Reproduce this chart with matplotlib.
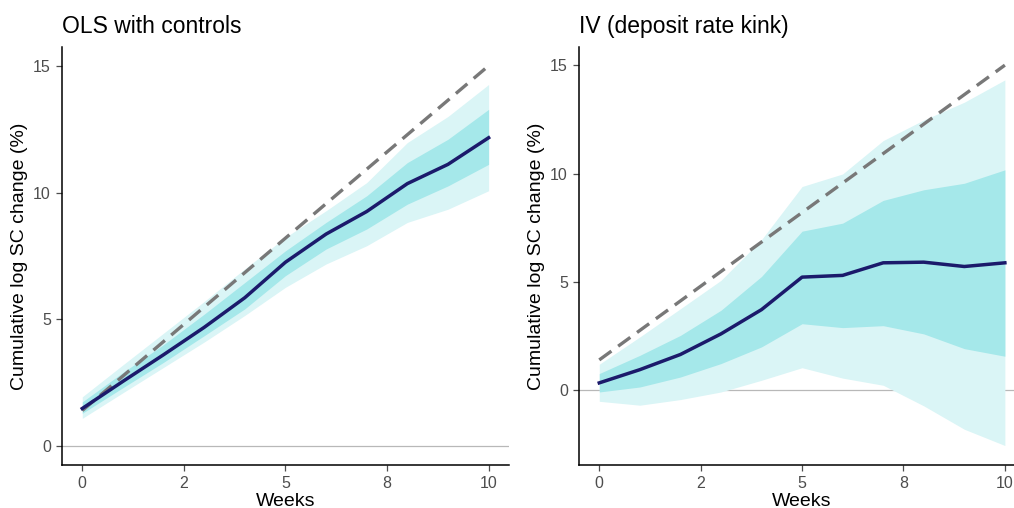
import matplotlib
matplotlib.use('Agg')
import matplotlib.pyplot as plt

plt.rcParams['font.family'] = ['Liberation Sans', 'DejaVu Sans']

weeks = [0, 1, 2, 3, 4, 5, 6, 7, 8, 9, 10]

# OLS with controls
ols_est = [1.48, 2.55, 3.6, 4.68, 5.85, 7.25, 8.36, 9.25, 10.35, 11.11, 12.16]
ols_lo95 = [1.09, 2.1, 3.1, 4.1, 5.15, 6.26, 7.18, 7.9, 8.82, 9.34, 10.07]
ols_hi95 = [1.94, 3.2, 4.45, 5.7, 6.99, 8.23, 9.28, 10.39, 11.97, 13.0, 14.26]
ols_lo68 = [1.29, 2.3, 3.3, 4.35, 5.41, 6.72, 7.77, 8.56, 9.54, 10.26, 11.11]
ols_hi68 = [1.74, 2.9, 4.0, 5.2, 6.45, 7.7, 8.82, 9.87, 11.18, 12.1, 13.28]

# IV (deposit rate kink)
iv_est = [0.34, 0.95, 1.65, 2.6, 3.72, 5.22, 5.3, 5.88, 5.91, 5.71, 5.88]
iv_lo95 = [-0.51, -0.69, -0.43, -0.08, 0.46, 1.04, 0.56, 0.23, -0.72, -1.8, -2.55]
iv_hi95 = [1.2, 2.46, 3.76, 5.07, 6.95, 9.4, 9.98, 11.52, 12.47, 13.29, 14.32]
iv_lo68 = [-0.08, 0.15, 0.61, 1.23, 2.0, 3.07, 2.89, 2.98, 2.6, 1.92, 1.57]
iv_hi68 = [0.77, 1.61, 2.53, 3.69, 5.25, 7.34, 7.71, 8.76, 9.25, 9.55, 10.17]

# benchmark (full pass-through) line
bench_x = [0, 10]
bench_y = [1.4, 15]

xticks = [0, 2.5, 5, 7.5, 10]
xticklabels = ['0', '2', '5', '8', '10']
yticks = [0, 5, 10, 15]

panels = [
    ('OLS with controls', ols_est, ols_lo95, ols_hi95, ols_lo68, ols_hi68, (-0.75, 15.75)),
    ('IV (deposit rate kink)', iv_est, iv_lo95, iv_hi95, iv_lo68, iv_hi68, (-3.45, 15.85)),
]

fig = plt.figure(figsize=(10.14, 5.08), dpi=100)
positions = [[0.0611, 0.0846, 0.4408, 0.8234], [0.571, 0.0846, 0.44, 0.8234]]

for pos, (title, est, lo95, hi95, lo68, hi68, ylim) in zip(positions, panels):
    ax = fig.add_axes(pos)
    ax.axhline(0, color='#b8b8b8', lw=0.9, zorder=1)
    ax.fill_between(weeks, lo95, hi95, color='#daf5f6', lw=0, zorder=2)
    ax.fill_between(weeks, lo68, hi68, color='#a5e8ea', lw=0, zorder=3)
    ax.plot(bench_x, bench_y, color='#787878', lw=2.4, ls=(0, (4.5, 2.5)), zorder=4)
    ax.plot(weeks, est, color='#1b1a6b', lw=2.5, zorder=5)
    ax.set_xlim(-0.5, 10.5)
    ax.set_ylim(*ylim)
    ax.set_xticks(xticks)
    ax.set_xticklabels(xticklabels)
    ax.set_yticks(yticks)
    ax.tick_params(labelsize=11.5, colors='#4d4d4d', length=4, width=0.9, pad=4)
    for s in ['top', 'right']:
        ax.spines[s].set_visible(False)
    for s in ['left', 'bottom']:
        ax.spines[s].set_linewidth(1.1)
        ax.spines[s].set_color('black')
    ax.set_xlabel('Weeks', fontsize=14, labelpad=1)
    ax.set_ylabel('Cumulative log SC change (%)', fontsize=14, labelpad=4)
    ax.set_title(title, fontsize=16.5, loc='left', pad=10)

fig.savefig('out.png', dpi=100)
